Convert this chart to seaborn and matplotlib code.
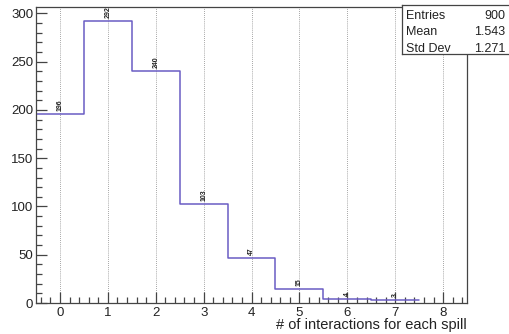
import numpy as np
import pandas as pd
import matplotlib
matplotlib.use("Agg")
import matplotlib.pyplot as plt
import seaborn as sns
from matplotlib.ticker import MultipleLocator

interactions = [0, 1, 2, 3, 4, 5, 6, 7, 8]
counts = [196, 292, 240, 103, 47, 15, 4, 3, 0]
xlabel = "# of interactions for each spill"

sns.set_style("ticks")
plt.rcParams['font.family'] = ['Liberation Sans', 'DejaVu Sans']

df = pd.DataFrame({"n": interactions, "count": counts})

fig = plt.figure(figsize=(5.09, 3.34), dpi=100)
ax = fig.add_axes([0.0707, 0.0928, 0.847, 0.886])

sns.histplot(data=df, x="n", weights="count", binrange=(-0.5, 7.5), binwidth=1.0,
             element="step", fill=False, color="#6a5cc4", linewidth=1.1, ax=ax)

ax.set_xlim(-0.5, 8.5)
ax.set_ylim(0, max(counts) * 1.05)
ax.xaxis.set_major_locator(MultipleLocator(1))
ax.xaxis.set_minor_locator(MultipleLocator(0.2))
ax.yaxis.set_major_locator(MultipleLocator(50))
ax.yaxis.set_minor_locator(MultipleLocator(10))
ax.tick_params(axis='both', which='major', direction='in', length=8, width=0.9,
               labelsize=9.5, colors='#444444', labelcolor='#222222', top=False, right=False)
ax.tick_params(axis='both', which='minor', direction='in', length=4, width=0.9,
               colors='#444444', top=False, right=False)
ax.tick_params(axis='x', which='major', pad=3)
ax.tick_params(axis='y', which='major', pad=2)
ax.grid(axis='x', which='major', linestyle=(0, (1, 1.5)), color='#888888', linewidth=0.6)
for s in ax.spines.values():
    s.set_color('#444444')
    s.set_linewidth(0.9)

ax.set_ylabel("")
ax.set_xlabel(xlabel, fontsize=10.5, ha='right', va='center', color='#222222')
ax.xaxis.set_label_coords(1.0, -0.075)

for x, c in zip(interactions, counts):
    if c > 0:
        ax.text(x, c + 3, str(c), rotation=90, fontsize=5, fontweight='bold',
                ha='center', va='bottom', color='#222222')

arr = np.repeat(interactions, counts)
entries = len(arr)
mean = arr.mean()
std = arr.std()
box = fig.add_axes([0.79, 0.838, 0.215, 0.148])
box.set_xticks([]); box.set_yticks([])
box.set_xlim(0, 1); box.set_ylim(0, 1)
for s in box.spines.values():
    s.set_color('#444444'); s.set_linewidth(0.9)
rows = [("Entries", f"{entries}"), ("Mean", f"{mean:.3f}"), ("Std Dev", f"{std:.3f}")]
for i, (k, v) in enumerate(rows):
    y = 0.77 - i * 0.33
    box.text(0.04, y, k, fontsize=9, va='center', ha='left', color='#222222')
    box.text(0.945, y, v, fontsize=9, va='center', ha='right', color='#222222')

fig.savefig("out.png", dpi=100)
